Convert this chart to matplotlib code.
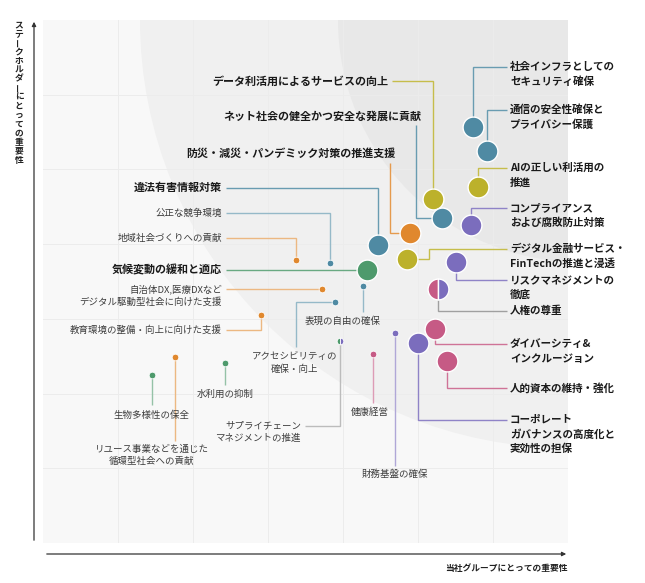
import matplotlib
matplotlib.use('Agg')
import matplotlib.pyplot as plt
import matplotlib.transforms as mtransforms
from matplotlib.patches import Ellipse, FancyArrowPatch
from matplotlib.colors import to_rgb

plt.rcParams['font.family'] = ['Noto Sans CJK JP', 'DejaVu Sans']

# ---- data: importance scores on a 0-7 grid ----
names = [
    '社会インフラとしての\nセキュリティ確保',
    '通信の安全性確保と\nプライバシー保護',
    'AIの正しい利活用の\n推進',
    'コンプライアンス\nおよび腐敗防止対策',
    'データ利活用によるサービスの向上',
    'ネット社会の健全かつ安全な発展に貢献',
    '防災・減災・パンデミック対策の推進支援',
    '違法有害情報対策',
    '気候変動の緩和と適応',
    'デジタル金融サービス・\nFinTechの推進と浸透',
    'リスクマネジメントの\n徹底',
    '人権の尊重',
    'ダイバーシティ&\nインクルージョン',
    '人的資本の維持・強化',
    'コーポレート\nガバナンスの高度化と\n実効性の担保',
    '公正な競争環境',
    '地域社会づくりへの貢献',
    '自治体DX,医療DXなど\nデジタル駆動型社会に向けた支援',
    '表現の自由の確保',
    'アクセシビリティの\n確保・向上',
    '教育環境の整備・向上に向けた支援',
    'サプライチェーン\nマネジメントの推進',
    '健康経営',
    '財務基盤の確保',
    '水利用の抑制',
    '生物多様性の保全',
    'リユース事業などを通じた\n循環型社会への貢献',
]
category = [
    '安心安全', '安心安全', 'DX', 'ガバナンス', 'DX', '安心安全', '社会',
    '安心安全', '環境', 'DX', 'ガバナンス', ('人材', 'ガバナンス'), '人材',
    '人材', 'ガバナンス', '安心安全', '社会', '社会', '安心安全', '安心安全',
    '社会', ('環境', 'ガバナンス'), '人材', 'ガバナンス', '環境', '環境', '社会',
]
company_imp = [5.73, 5.92, 5.80, 5.71, 5.20, 5.32, 4.89, 4.47, 4.32, 4.85,
               5.51, 5.27, 5.23, 5.39, 5.00, 3.83, 3.37, 3.72, 4.27, 3.89,
               2.91, 3.96, 4.40, 4.69, 2.43, 1.45, 1.76]
stakeholder_imp = [5.57, 5.25, 4.77, 4.26, 4.61, 4.35, 4.15, 3.99, 3.65, 3.80,
                   3.76, 3.40, 2.86, 2.44, 2.68, 3.75, 3.79, 3.40, 3.44, 3.23,
                   3.05, 2.70, 2.53, 2.81, 2.41, 2.25, 2.49]
is_key = [True] * 15 + [False] * 12

cat_colors = {
    '安心安全': '#4f8aa3',
    'DX': '#bcb12b',
    'ガバナンス': '#7b6dbd',
    '社会': '#e0882e',
    '環境': '#4e9a6c',
    '人材': '#c65a85',
}

# ---- layout (pixels): label x, y, align, leader start x, y, leader kind ----
label_layout = [
    (510, 67, 'left', 507, 67, 'h'),
    (510, 110, 'left', 507, 110, 'h'),
    (510, 168, 'left', 507, 168, 'h'),
    (510, 208, 'left', 507, 208, 'h'),
    (388, 81, 'right', 392, 81, 'h'),
    (421, 116, 'right', 416, 125, 'v'),
    (395, 154, 'right', 390, 163, 'v'),
    (222, 188, 'right', 226, 188, 'h'),
    (222, 270, 'right', 226, None, 'h'),
    (510, 249, 'left', 507, 249, ('hvh', 429)),
    (510, 280, 'left', 507, 280, 'h'),
    (510, 311, 'left', 507, 311, 'h'),
    (510, 344, 'left', 507, 344, 'h'),
    (510, 388, 'left', 507, 388, 'h'),
    (510, 420, 'left', 507, 420, 'h'),
    (222, 213, 'right', 226, 213, 'h'),
    (222, 238, 'right', 226, 238, 'h'),
    (222, 289, 'right', 226, None, 'h'),
    (343, 321, 'center', None, 312, 'h'),
    (295, 357, 'center', 296, 347, 'v'),
    (222, 330, 'right', 226, 330, 'h'),
    (301, 426, 'right', 305, 426, 'h'),
    (370, 412, 'center', None, 403, 'h'),
    (395, 474, 'center', None, 466, 'h'),
    (225, 394, 'center', None, 385, 'h'),
    (152, 415, 'center', None, 405, 'h'),
    (152, 449, 'center', None, 441, 'h'),
]

W, H = 645, 583
X0, X1, Y0, Y1 = 43, 568, 20, 543
N = 7


def px2d(px, py):
    return (px - X0) / (X1 - X0) * N, (Y1 - py) / (Y1 - Y0) * N


def lighten(c, f):
    r, g, b = to_rgb(c)
    return (r + (1 - r) * f, g + (1 - g) * f, b + (1 - b) * f)


fig = plt.figure(figsize=(W / 100, H / 100), dpi=100)
pix = mtransforms.Affine2D().scale(1 / W, -1 / H).translate(0, 1) + fig.transFigure

ax = fig.add_axes([X0 / W, 1 - Y1 / H, (X1 - X0) / W, (Y1 - Y0) / H])
ax.set_xlim(0, N)
ax.set_ylim(0, N)
ax.set_facecolor('#f8f8f8')
for s in ax.spines.values():
    s.set_visible(False)
ax.set_xticks([])
ax.set_yticks([])

# background bands centred at the top-right corner
sx = N / (X1 - X0)
sy = N / (Y1 - Y0)
for cpx, r, col in [(568, 428, '#f0f0f0'), (580, 242, '#e8e8e8')]:
    cx, cy = px2d(cpx, 20)
    ax.add_patch(Ellipse((cx, cy), 2 * r * sx, 2 * r * sy, color=col, lw=0, zorder=0))

for k in range(1, N):
    ax.axvline(k, color='#ececec', lw=0.7, zorder=1)
    ax.axhline(k, color='#ececec', lw=0.7, zorder=1)

# leaders, bubbles, labels
for i, name in enumerate(names):
    bx, by = company_imp[i], stakeholder_imp[i]
    tx, ty, ha, lsx, lsy, kind = label_layout[i]
    cat = category[i]
    half = isinstance(cat, tuple)
    base = '#8f8f8f' if half else cat_colors[cat]
    lcol = lighten(base, 0.15 if is_key[i] else 0.4)

    sxd = bx if lsx is None else px2d(lsx, 0)[0]
    syd = by if lsy is None else px2d(0, lsy)[1]
    if kind == 'h':
        path = [(sxd, syd), (bx, syd), (bx, by)]
    elif kind == 'v':
        path = [(sxd, syd), (sxd, by), (bx, by)]
    else:
        cxd = px2d(kind[1], 0)[0]
        path = [(sxd, syd), (cxd, syd), (cxd, by), (bx, by)]
    ax.plot([p[0] for p in path], [p[1] for p in path], color=lcol, lw=1.0,
            zorder=3, solid_capstyle='butt', solid_joinstyle='miter')

    ms = 15 if is_key[i] else 4.8
    mew = 1.0 if is_key[i] else 0.6
    if half:
        ax.plot(bx, by, marker='o', ms=ms, ls='none', fillstyle='left',
                mfc=cat_colors[cat[0]], mfcalt=cat_colors[cat[1]],
                mec='white', mew=mew, zorder=4)
    else:
        ax.plot(bx, by, marker='o', ms=ms, ls='none', mfc=cat_colors[cat],
                mec='white', mew=mew, zorder=4)

    lines = name.split('\n')
    lh = 14.5 if is_key[i] else 12.5
    for j, line in enumerate(lines):
        dx, dy = px2d(tx, ty + j * lh)
        if is_key[i]:
            fs = 7.6 if ha == 'left' else 7.95
            ax.text(dx, dy, line, ha=ha, va='center', fontsize=fs,
                    fontweight='bold', color='#1a1a1a', clip_on=False, zorder=5)
        else:
            ax.text(dx, dy, line, ha=ha, va='center', fontsize=6.8,
                    color='#3d3d3d', clip_on=False, zorder=5)

# axis arrows
for a, b in [((34, 543), (34, 19)), ((44, 554), (569, 554))]:
    fig.add_artist(FancyArrowPatch(a, b, transform=pix, arrowstyle='-|>',
                                   mutation_scale=6, lw=0.9, color='#333333'))

fig.text(568 / W, 1 - 568 / H, '当社グループにとっての重要性', ha='right', va='center',
         fontsize=6.3, fontweight='bold', color='#222222')

ylabel = 'ステークホルダーにとっての重要性'
for j, ch in enumerate(ylabel):
    rot = 90 if ch == 'ー' else 0
    fig.text(19 / W, 1 - (25 + j * 9) / H, ch, ha='center', va='center',
             rotation=rot, fontsize=6.3, fontweight='bold', color='#222222')

fig.savefig('out.png', dpi=100)
